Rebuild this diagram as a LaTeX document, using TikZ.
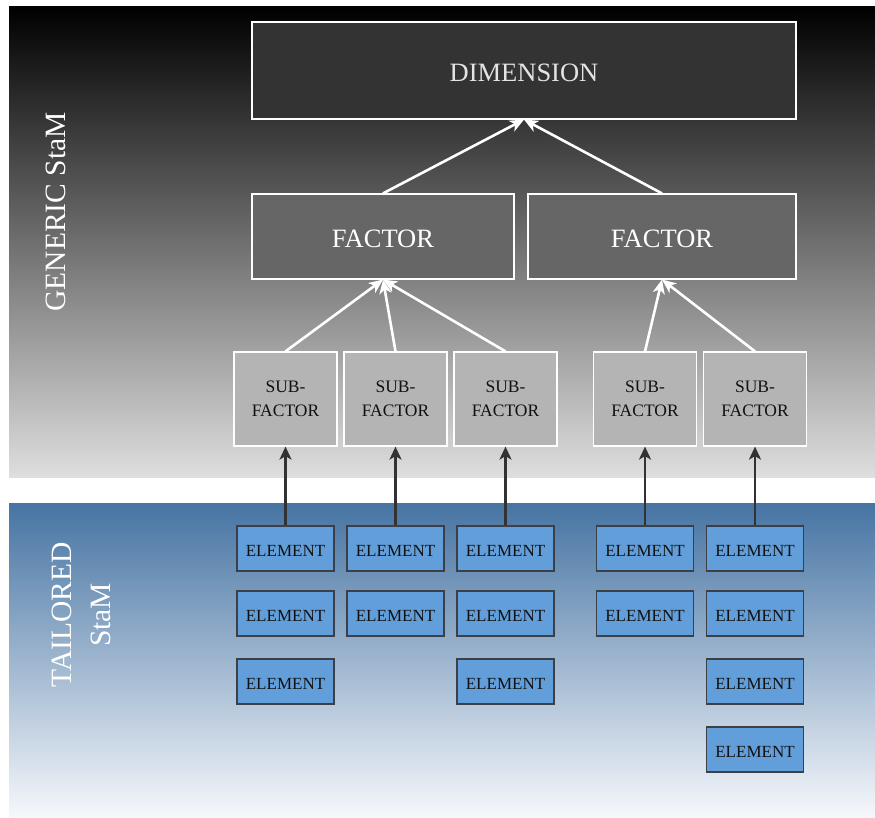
\documentclass[tikz,border=0pt]{standalone}
\usepackage{fontspec}
\setmainfont{Liberation Serif}
\usetikzlibrary{arrows.meta}

\definecolor{genTop}{RGB}{0,0,0}
\definecolor{genBot}{RGB}{222,222,222}
\definecolor{tailTop}{RGB}{70,116,163}
\definecolor{tailBot}{RGB}{246,248,251}
\definecolor{dimFill}{RGB}{51,51,51}
\definecolor{facFill}{RGB}{102,102,102}
\definecolor{subFill}{RGB}{180,180,180}
\definecolor{elFill}{RGB}{98,159,218}
\definecolor{elDraw}{RGB}{60,64,70}
\definecolor{upArrow}{RGB}{50,50,50}

\tikzset{
  dimbox/.style={draw=white, line width=1.2pt, fill=dimFill, inner sep=0pt,
    minimum width=544pt, minimum height=97pt, text height=23pt, text depth=0pt,
    text={rgb,255:red,228;green,228;blue,228}, font=\fontsize{26.5}{30}\selectfont},
  facbox/.style={draw=white, line width=1.2pt, fill=facFill, inner sep=0pt,
    minimum height=85pt, text height=23pt, text depth=0pt,
    text=white, font=\fontsize{26.5}{30}\selectfont},
  subbox/.style={draw=white, line width=1.2pt, fill=subFill, inner sep=0pt,
    minimum width=103pt, minimum height=94pt, align=center,
    text={rgb,255:red,17;green,17;blue,17}, font=\fontsize{17.5}{24}\selectfont},
  elbox/.style={draw=elDraw, line width=1.2pt, fill=elFill, inner sep=0pt,
    minimum width=97pt, minimum height=45pt, text height=16pt, text depth=0pt,
    text={rgb,255:red,17;green,17;blue,17}, font=\fontsize{17}{20}\selectfont},
  sidelabel/.style={rotate=90, text=white, align=center,
    font=\fontsize{29.5}{39}\selectfont},
  whitearrow/.style={draw=white, line width=2.6pt,
    -{Stealth[length=14pt, width=12pt, inset=4pt]}},
  darkarrow/.style={draw=upArrow, line width=2.4pt,
    -{Stealth[length=13pt, width=12pt, inset=3.5pt]}}
}

\begin{document}
\begin{tikzpicture}[x=1pt, y=-1pt]
  \useasboundingbox (0,0) rectangle (875,818);
  \fill[white] (0,0) rectangle (875,818);

  % two background bands
  \shade[top color=genTop, bottom color=genBot] (9,7) rectangle (875,477);
  \shade[top color=tailTop, bottom color=tailBot] (9,503) rectangle (875,818);

  % side labels
  \node[sidelabel] (lgen) at (56,212) {GENERIC StaM};
  \node[sidelabel] (ltail) at (81,615) {TAILORED\\StaM};

  % generic part
  \node[dimbox] (dim) at (524,70.5) {DIMENSION};
  \node[facbox, minimum width=262pt] (fL) at (383,236.5) {FACTOR};
  \node[facbox, minimum width=268pt] (fR) at (662,236.5) {FACTOR};

  \node[subbox] (s1) at (285.5,399) {SUB-\\FACTOR};
  \node[subbox] (s2) at (395.5,399) {SUB-\\FACTOR};
  \node[subbox] (s3) at (505.5,399) {SUB-\\FACTOR};
  \node[subbox] (s4) at (645,399) {SUB-\\FACTOR};
  \node[subbox] (s5) at (755,399) {SUB-\\FACTOR};

  % tailored part
  \node[elbox] (e11) at (285.5,548.5) {ELEMENT};
  \node[elbox] (e12) at (285.5,613.5) {ELEMENT};
  \node[elbox] (e13) at (285.5,681.5) {ELEMENT};

  \node[elbox] (e21) at (395.5,548.5) {ELEMENT};
  \node[elbox] (e22) at (395.5,613.5) {ELEMENT};

  \node[elbox] (e31) at (505.5,548.5) {ELEMENT};
  \node[elbox] (e32) at (505.5,613.5) {ELEMENT};
  \node[elbox] (e33) at (505.5,681.5) {ELEMENT};

  \node[elbox] (e41) at (645,548.5) {ELEMENT};
  \node[elbox] (e42) at (645,613.5) {ELEMENT};

  \node[elbox] (e51) at (755,548.5) {ELEMENT};
  \node[elbox] (e52) at (755,613.5) {ELEMENT};
  \node[elbox] (e53) at (755,681.5) {ELEMENT};
  \node[elbox] (e54) at (755,749.5) {ELEMENT};

  % connectors
  \draw[whitearrow] (fL.north) -- (dim.south);
  \draw[whitearrow] (fR.north) -- (dim.south);

  \draw[whitearrow] (s1.north) -- (fL.south);
  \draw[whitearrow] (s2.north) -- (fL.south);
  \draw[whitearrow] (s3.north) -- (fL.south);
  \draw[whitearrow] (s4.north) -- (fR.south);
  \draw[whitearrow] (s5.north) -- (fR.south);

  \draw[darkarrow] (e11.north) -- (s1.south);
  \draw[darkarrow] (e21.north) -- (s2.south);
  \draw[darkarrow] (e31.north) -- (s3.south);
  \draw[darkarrow] (e41.north) -- (s4.south);
  \draw[darkarrow] (e51.north) -- (s5.south);
\end{tikzpicture}
\end{document}
